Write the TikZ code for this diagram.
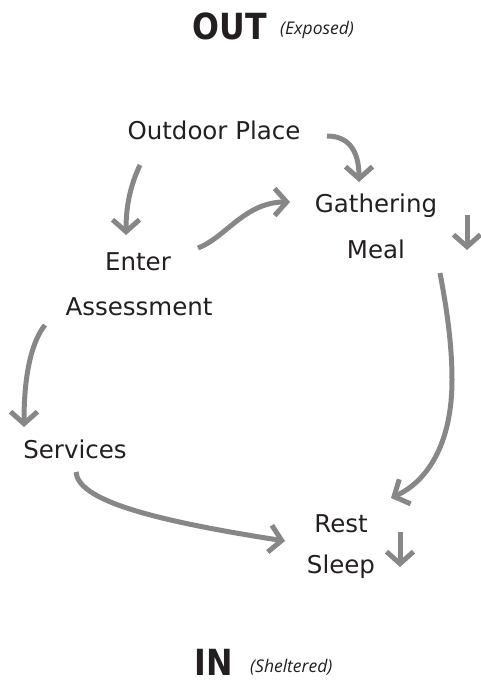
\documentclass[tikz,border=0pt]{standalone}
\usepackage{fontspec}
\setmainfont{DejaVu Sans}
\newfontfamily\headfont[FakeStretch=0.88]{DejaVu Sans}
\newfontfamily\notefont{Open Sans}
\usepackage{xcolor}
\definecolor{flowgray}{RGB}{135,135,135}
\definecolor{textdark}{RGB}{35,31,32}
\usetikzlibrary{arrows.meta, positioning}

\tikzset{
  place/.style={inner sep=0pt, anchor=base, text=textdark,
    font=\fontsize{24.5}{29}\selectfont},
  flow/.style={draw=flowgray, line width=5pt,
    -{Straight Barb[length=12pt, width=27pt]}},
  heading/.style={inner sep=0pt, anchor=base, text=textdark,
    font=\headfont\bfseries\fontsize{36}{40}\selectfont},
  remark/.style={inner sep=0pt, anchor=base west, text=textdark,
    font=\notefont\itshape\fontsize{17.5}{20}\selectfont}
}

\begin{document}
\begin{tikzpicture}[x=1pt, y=-1pt]
\useasboundingbox (0,0) rectangle (481,683);

% --- Headings ---
\node[heading] (out) at (230,39) {OUT};
\node[remark] (exposed) at (280,34) {(Exposed)};
\node[heading] (in) at (214,675) {IN};
\node[remark] (sheltered) at (250,672) {(Sheltered)};

% --- Places ---
\node[place] (outdoor) at (214,139) {Outdoor Place};
\node[place] (gathering) at (376,212) {Gathering};
\node[place] (meal) at (376,258) {Meal};
\node[place] (enter) at (138,270) {Enter};
\node[place] (assessment) at (139,315) {Assessment};
\node[place] (services) at (75,458) {Services};
\node[place] (rest) at (341,532) {Rest};
\node[place] (sleep) at (341,573) {Sleep};

% --- Flows ---
\draw[flow] ([shift={(-74,26)}]outdoor.base)
  .. controls (133,180) and (126,200) .. ([shift={(-12,-35)}]enter.base);
\draw[flow] ([shift={(113,-3)}]outdoor.base)
  .. controls (348,136) and (359,150) .. ([shift={(-17,-30)}]gathering.base);
\draw[flow] ([shift={(60,-22)}]enter.base)
  .. controls (225,238) and (245,202) .. ([shift={(-86,-10)}]gathering.base);
\draw[flow] ([shift={(64,15)}]meal.base)
  .. controls (447,310) and (452,345) .. (452,380)
  .. controls (452,440) and (430,480) .. ([shift={(50,-34)}]rest.base);
\draw[flow] ([shift={(-94,10)}]assessment.base)
  .. controls (33,340) and (24,370) .. ([shift={(-51,-31)}]services.base);
\draw[flow] ([shift={(1,14)}]services.base)
  .. controls (78,500) and (150,520) .. ([shift={(-56,9)}]rest.base);

% short drops
\draw[flow] ([shift={(91,3)}]gathering.base) -- ([shift={(91,38)}]gathering.base);
\draw[flow] ([shift={(59,-41)}]sleep.base) -- ([shift={(59,-6)}]sleep.base);

\end{tikzpicture}
\end{document}
